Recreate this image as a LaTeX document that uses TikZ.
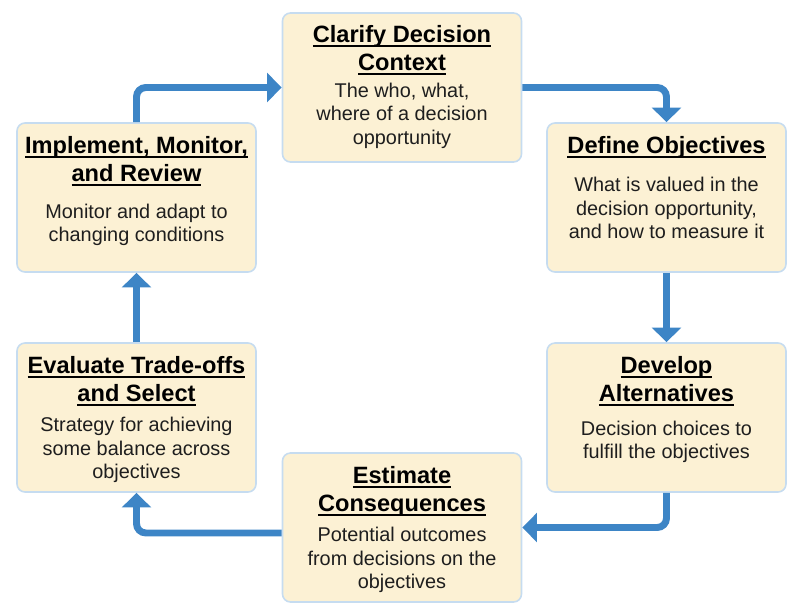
\documentclass[tikz,border=0pt]{standalone}
\usepackage{fontspec}
\setmainfont{Liberation Sans}
\usetikzlibrary{arrows.meta}
\definecolor{boxfill}{HTML}{FCF1D4}
\definecolor{boxline}{HTML}{C6DCF0}
\definecolor{flow}{HTML}{3D85C6}
\definecolor{bodytext}{HTML}{1E1E1E}
\newsavebox\ulbox
\newcommand\ulline[1]{\sbox\ulbox{#1}\rlap{\rule[-3.3pt]{\wd\ulbox}{1.5pt}}\usebox\ulbox}
\newcommand\fs{\rule{0pt}{15pt}}
\tikzset{
  stepbox/.style={draw=boxline, line width=1.2pt, fill=boxfill, rounded corners=6pt,
    minimum width=179.25pt, minimum height=111.75pt, inner sep=0pt},
  ttl/.style={anchor=north, inner sep=0pt, align=center,
    font=\bfseries\fontsize{17.7}{20.8}\selectfont},
  txt/.style={anchor=north, inner sep=0pt, align=center,
    font=\fontsize{14.9}{17.5}\selectfont, text=bodytext},
  flowline/.style={draw=flow, line width=5.2pt, rounded corners=7pt,
    -{Triangle[length=11pt,width=21.5pt]}},
}
\begin{document}
\begin{tikzpicture}[x=0.75pt,y=-0.75pt]
\useasboundingbox (0,0) rectangle (802,612);
% boxes
\node[stepbox] (clar) at (402,87.5) {};
\node[stepbox] (def)  at (666.5,197.5) {};
\node[stepbox] (dev)  at (666.5,417.5) {};
\node[stepbox] (est)  at (402,527.5) {};
\node[stepbox] (eval) at (136.5,417.5) {};
\node[stepbox] (impl) at (136.5,197.5) {};
% titles
\node[ttl] (clart) at (402,22.3) {\fs\ulline{Clarify Decision}\\\ulline{Context}};
\node[ttl] (deft)  at (666.5,133.3) {\fs\ulline{Define Objectives}};
\node[ttl] (devt)  at (666.5,353.3) {\fs\ulline{Develop}\\\ulline{Alternatives}};
\node[ttl] (estt)  at (402,463.3) {\fs\ulline{Estimate}\\\ulline{Consequences}};
\node[ttl] (evalt) at (136.5,353.3) {\fs\ulline{Evaluate Trade-offs}\\\ulline{and Select}};
\node[ttl] (implt) at (136.5,133.3) {\fs\ulline{Implement, Monitor,}\\\ulline{and Review}};
% bodies
\node[txt] (clarb) at (402,77.3) {\fs The who, what,\\where of a decision\\opportunity};
\node[txt] (defb)  at (666.5,171.7) {\fs What is valued in the\\decision opportunity,\\and how to measure it};
\node[txt] (devb)  at (666.5,415) {\fs Decision choices to\\fulfill the objectives};
\node[txt] (estb)  at (402,521.7) {\fs Potential outcomes\\from decisions on the\\objectives};
\node[txt] (evalb) at (136.5,411.7) {\fs Strategy for achieving\\some balance across\\objectives};
\node[txt] (implb) at (136.5,198.3) {\fs Monitor and adapt to\\changing conditions};
% connectors
\draw[flowline] (impl.north) |- (clar.west);
\draw[flowline] (clar.east) -| (def.north);
\draw[flowline] (def.south) -- (dev.north);
\draw[flowline] (dev.south) |- (est.east);
\draw[flowline] ([yshift=-4.1pt]est.west) -| (eval.south);
\draw[flowline] (eval.north) -- (impl.south);
\end{tikzpicture}
\end{document}
